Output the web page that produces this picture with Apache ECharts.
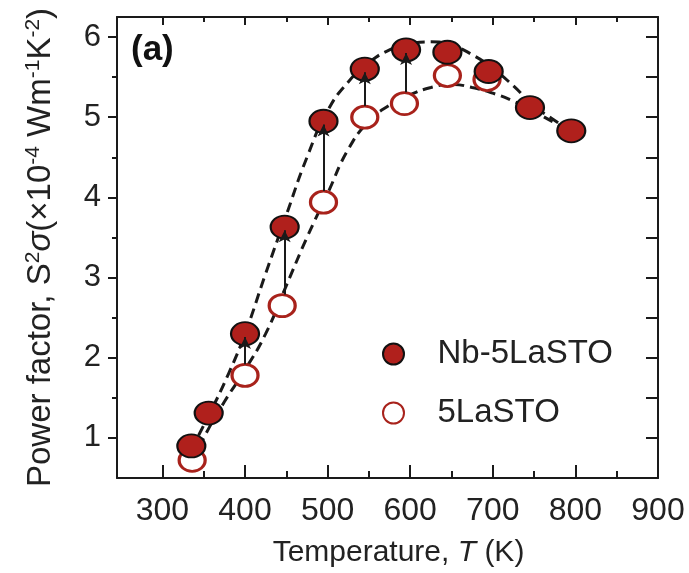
<!DOCTYPE html>
<html>
<head>
<meta charset="utf-8">
<title>Power factor vs temperature</title>
<script src="https://cdn.jsdelivr.net/npm/echarts@6.0.0/dist/echarts.min.js"></script>
<style>
  html, body { margin: 0; padding: 0; background: #fff; }
  #chart { width: 689px; height: 573px; }
</style>
</head>
<body>
<div id="chart"></div>
<script>
// measured points (filled = Nb-5LaSTO, open = 5LaSTO)
const nbTemp = [335, 356, 400, 448, 495, 545, 595, 645, 695, 745, 795];
const nbPF = [0.90, 1.31, 2.30, 3.63, 4.95, 5.60, 5.84, 5.81, 5.57, 5.12, 4.83];
const laTemp = [336, 400, 445, 495, 545, 593, 645, 693];
const laPF = [0.72, 1.78, 2.65, 3.94, 5.00, 5.17, 5.52, 5.47];

// dashed guide curves
const nbFitTemp = [335, 356, 380, 400, 425, 450, 475, 500, 525, 550, 575, 600, 625, 650, 675, 700, 725, 750, 775, 795];
const nbFitPF = [0.86, 1.28, 1.80, 2.30, 3.05, 3.78, 4.50, 5.08, 5.44, 5.68, 5.84, 5.92, 5.94, 5.90, 5.78, 5.61, 5.39, 5.14, 4.96, 4.82];
const laFitTemp = [337, 350, 375, 400, 425, 450, 475, 500, 525, 550, 575, 600, 625, 650, 675, 700, 725, 750, 775, 795];
const laFitPF = [0.70, 1.00, 1.45, 1.85, 2.30, 2.90, 3.50, 4.05, 4.60, 4.95, 5.15, 5.28, 5.37, 5.41, 5.37, 5.30, 5.20, 5.07, 4.93, 4.82];

// arrows from open to filled symbol
const arrowTemp = [400, 448, 495, 545, 595];
const arrowFrom = [1.78, 2.65, 3.94, 5.00, 5.17];
const arrowTo = [2.30, 3.63, 4.95, 5.60, 5.84];

// ticks
const xMajor = [300, 400, 500, 600, 700, 800, 900];
const xMinor = [350, 450, 550, 650, 750, 850];
const yMajor = [1, 2, 3, 4, 5, 6];
const yMinor = [1.5, 2.5, 3.5, 4.5, 5.5];

const FONT = "'Liberation Sans', Arial, sans-serif";
const INK = '#1a1a1a';
const RED = '#b0201c';
const X_MIN = 245, X_MAX = 900, Y_MIN = 0.5, Y_MAX = 6.25;
const ELLIPSE = 'path://M0,10 A10,10 0 1,1 20,10 A10,10 0 1,1 0,10 Z';

const chart = echarts.init(document.getElementById('chart'));

const frame = { color: INK, width: 2 };

function xAxisOf(pos, ticks, len, extra) {
  return Object.assign({
    type: 'value', position: pos, min: X_MIN, max: X_MAX,
    axisLine: { show: false, onZero: false },
    axisTick: { show: true, inside: true, length: len, lineStyle: frame, customValues: ticks },
    axisLabel: { show: false },
    splitLine: { show: false }
  }, extra || {});
}

function yAxisOf(pos, ticks, len, inside, extra) {
  return Object.assign({
    type: 'value', position: pos, min: Y_MIN, max: Y_MAX,
    axisLine: { show: false, onZero: false },
    axisTick: { show: true, inside: inside, length: len, lineStyle: frame, customValues: ticks },
    axisLabel: { show: false },
    splitLine: { show: false }
  }, extra || {});
}

const option = {
  backgroundColor: '#fff',
  animation: false,
  grid: { left: 117, right: 31, top: 17, bottom: 91 },
  xAxis: [
    xAxisOf('bottom', xMajor, 13, {
      axisLine: { show: true, onZero: false, lineStyle: frame },
      axisLabel: { show: true, customValues: xMajor, fontSize: 32, color: '#222', fontFamily: FONT, margin: 17 },
      name: 'Temperature, {i|T} (K)',
      nameLocation: 'middle',
      nameGap: 60,
      nameTextStyle: {
        fontSize: 30, color: '#222', fontFamily: FONT, padding: [0, 0, 0, 22],
        rich: { i: { fontSize: 30, color: '#222', fontFamily: FONT, fontStyle: 'italic' } }
      }
    }),
    xAxisOf('bottom', xMinor, 7),
    xAxisOf('top', xMajor, 8, { axisLine: { show: true, onZero: false, lineStyle: frame } }),
    xAxisOf('top', xMinor, 5)
  ],
  yAxis: [
    yAxisOf('left', yMajor, 9, false, {
      axisLine: { show: true, onZero: false, lineStyle: frame },
      axisLabel: { show: true, customValues: yMajor, fontSize: 31, color: '#222', fontFamily: FONT, margin: 16 },
      name: 'Power factor, S{sup|2}{i|σ}(×10{sup|-4} Wm{sup|-1}K{sup|-2})',
      nameLocation: 'middle',
      nameGap: 58,
      nameTextStyle: {
        fontSize: 33, color: '#222', fontFamily: FONT, lineHeight: 36,
        rich: {
          sup: { fontSize: 21, color: '#222', fontFamily: FONT, lineHeight: 22, verticalAlign: 'top' },
          i: { fontSize: 33, color: '#222', fontFamily: FONT, fontStyle: 'italic', lineHeight: 36 }
        }
      }
    }),
    yAxisOf('left', yMinor, 5, false),
    yAxisOf('right', yMajor.concat(yMinor), 12, true, { axisLine: { show: true, onZero: false, lineStyle: frame } })
  ],
  legend: {
    orient: 'vertical',
    left: 377,
    top: 331,
    itemWidth: 24,
    itemHeight: 21,
    itemGap: 23,
    data: ['Nb-5LaSTO', '5LaSTO'],
    textStyle: { fontSize: 33, color: '#222', fontFamily: FONT, lineHeight: 36, padding: [0, 0, 0, 27] }
  },
  graphic: [
    { type: 'text', left: 131, top: 33, style: { text: '(a)', font: 'bold 35px ' + FONT, fill: '#111' } }
  ],
  series: [
    {
      type: 'line', name: 'fit-nb', smooth: true, symbol: 'none', z: 1, silent: true,
      lineStyle: { color: INK, width: 3, type: [10, 6] },
      data: nbFitTemp.map((t, i) => [t, nbFitPF[i]])
    },
    {
      type: 'line', name: 'fit-la', smooth: true, symbol: 'none', z: 1, silent: true,
      lineStyle: { color: INK, width: 3, type: [10, 6] },
      data: laFitTemp.map((t, i) => [t, laFitPF[i]])
    },
    {
      type: 'scatter', name: '5LaSTO', z: 2,
      symbol: ELLIPSE, symbolSize: [26, 22],
      itemStyle: { color: '#fff', borderColor: '#a8221b', borderWidth: 3, opacity: 1 },
      data: laTemp.map((t, i) => [t, laPF[i]]),
      markLine: {
        silent: true, z: 5,
        symbol: ['none', 'arrow'], symbolSize: [9, 12],
        label: { show: false },
        lineStyle: { color: INK, width: 2, type: 'solid' },
        data: arrowTemp.map((t, i) => [
          { coord: [t, arrowFrom[i] + 0.14] },
          { coord: [t, arrowTo[i] - 0.04] }
        ])
      }
    },
    {
      type: 'scatter', name: 'Nb-5LaSTO', z: 3,
      symbol: ELLIPSE, symbolSize: [28, 23],
      itemStyle: { color: RED, borderColor: '#111', borderWidth: 2, opacity: 1 },
      data: nbTemp.map((t, i) => [t, nbPF[i]])
    }
  ]
};

chart.setOption(option);
</script>
</body>
</html>
